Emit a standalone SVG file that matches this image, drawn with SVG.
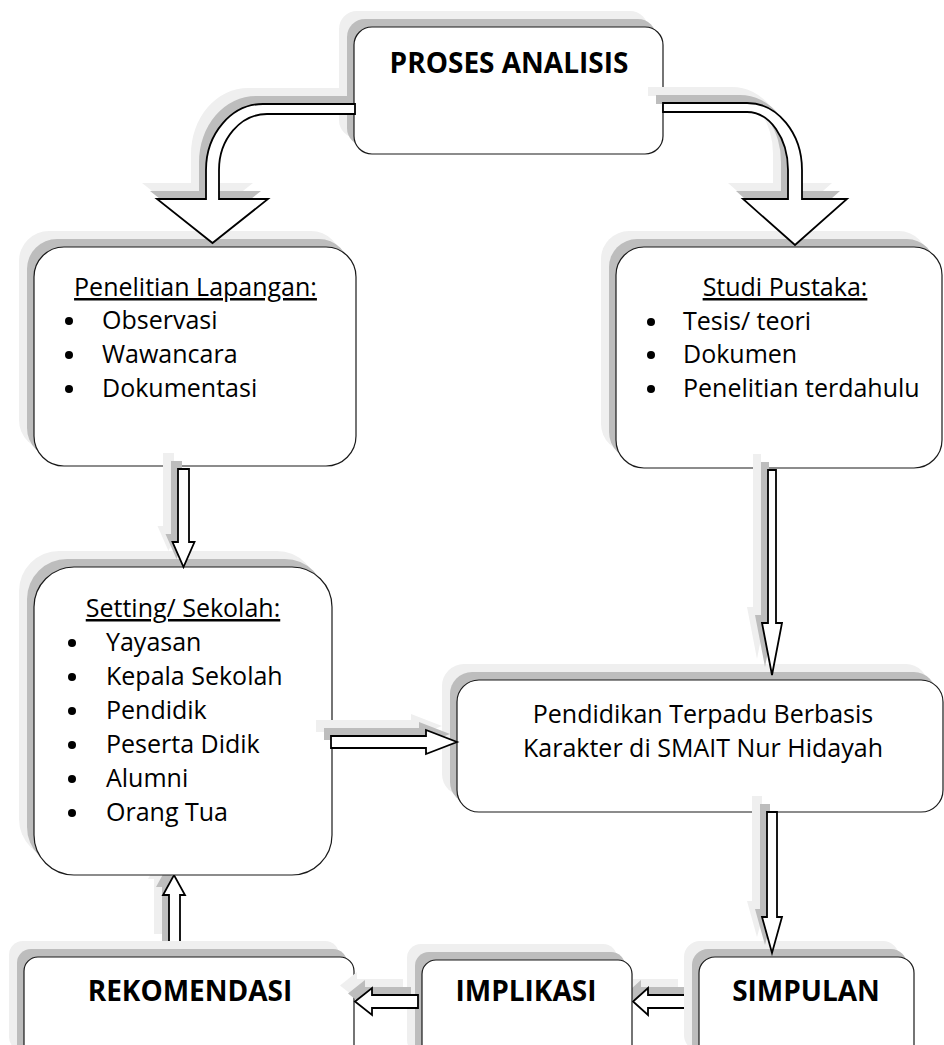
<svg xmlns="http://www.w3.org/2000/svg" width="944" height="1045" viewBox="0 0 944 1045">
<style>
.s1{fill:#efefef}
.s2{fill:#bdbdbd}
.box{fill:#fff;stroke:#1a1a1a;stroke-width:1.2}
.arr{fill:#fff;stroke:#000;stroke-width:1.8;stroke-linejoin:miter}
text{font-family:"Open Sans","Noto Sans","DejaVu Sans",sans-serif;fill:#000}
.t{font-size:25px}
.b{font-size:28px;font-weight:bold}
.h{text-decoration:underline}
.m{text-anchor:middle}
.dot{fill:#000}
</style>
<defs>
<rect id="r-proses" x="354" y="27" width="309" height="127" rx="18"/>
<rect id="r-pen" x="34" y="247" width="322" height="219" rx="30"/>
<rect id="r-studi" x="616" y="247" width="326" height="221" rx="28"/>
<rect id="r-set" x="34" y="567" width="298" height="308" rx="40"/>
<rect id="r-pend" x="457" y="680" width="486" height="132" rx="22"/>
<rect id="r-rek" x="24" y="957" width="330" height="110" rx="14"/>
<rect id="r-imp" x="422" y="960" width="210" height="110" rx="14"/>
<rect id="r-sim" x="699" y="957" width="215" height="110" rx="16"/>
<path id="a1" d="M355,104 L263,104 A57,66 0 0 0 206,170 L206,199 L157,199 L212.5,243 L268,199 L219,199 L219,170 A48,56 0 0 1 267,114 L355,114 Z"/>
<path id="a2" d="M663,103 L747,103 A55,67 0 0 1 802,170 L802,199 L847,199 L795,245 L743,199 L788,199 L788,170 A41,58 0 0 0 747,112 L663,112 Z"/>
<path id="a3" d="M178,469 H189 V542 H194.5 L183.5,567 L172.5,542 H178 Z"/>
<path id="a4" d="M331,736 H426 V730 L457,742 L426,754 V748 H331 Z"/>
<path id="a5" d="M768,470 H776 V623 H782 L772,675 L762,623 H768 Z"/>
<path id="a6" d="M767,812 H777 V917 H782 L772,953 L762,917 H767 Z"/>
<path id="a7" d="M693,995 H648 V988 L633,1001.5 L648,1015 V1008 H693 Z"/>
<path id="a8" d="M418,995 H372 V988 L355,1001.5 L372,1015 V1008 H418 Z"/>
<path id="a9" d="M169,950 V895 H163 L174,875 L185,895 H180 V950 Z"/>
</defs>
<rect x="0" y="0" width="944" height="1045" fill="#fff"/>

<g id="connectors-back">
<g id="c-imp-rek-up"><use href="#a9" class="s1" transform="translate(-15,-16)"/><use href="#a9" class="s2" transform="translate(-7,-8)"/><use href="#a9" class="arr"/></g>
<g id="c-sim-imp"><use href="#a7" class="s1" transform="translate(-15,-16)"/><use href="#a7" class="s2" transform="translate(-7,-8)"/><use href="#a7" class="arr"/></g>
</g>

<g id="node-proses">
<use href="#r-proses" class="s1" transform="translate(-15,-16)"/><use href="#r-proses" class="s2" transform="translate(-7,-8)"/><use href="#r-proses" class="box"/>
<text class="b m" x="509" y="73">PROSES ANALISIS</text>
</g>

<g id="node-penelitian">
<use href="#r-pen" class="s1" transform="translate(-15,-16)"/><use href="#r-pen" class="s2" transform="translate(-7,-8)"/><use href="#r-pen" class="box"/>
<text class="t m h" x="195.5" y="296">Penelitian Lapangan:</text>
<circle class="dot" cx="69" cy="321" r="4"/><text class="t" x="102" y="329">Observasi</text>
<circle class="dot" cx="69" cy="355" r="4"/><text class="t" x="102" y="363">Wawancara</text>
<circle class="dot" cx="69" cy="389" r="4"/><text class="t" x="102" y="397">Dokumentasi</text>
</g>

<g id="node-studi">
<use href="#r-studi" class="s1" transform="translate(-15,-16)"/><use href="#r-studi" class="s2" transform="translate(-7,-8)"/><use href="#r-studi" class="box"/>
<text class="t m h" x="785" y="296">Studi Pustaka:</text>
<circle class="dot" cx="651" cy="322" r="4"/><text class="t" x="683" y="330">Tesis/ teori</text>
<circle class="dot" cx="651" cy="355" r="4"/><text class="t" x="683" y="363">Dokumen</text>
<circle class="dot" cx="651" cy="389" r="4"/><text class="t" x="683" y="397">Penelitian terdahulu</text>
</g>

<g id="node-setting">
<use href="#r-set" class="s1" transform="translate(-15,-16)"/><use href="#r-set" class="s2" transform="translate(-7,-8)"/><use href="#r-set" class="box"/>
<text class="t m h" x="183" y="617">Setting/ Sekolah:</text>
<circle class="dot" cx="72" cy="643" r="4"/><text class="t" x="106" y="651">Yayasan</text>
<circle class="dot" cx="72" cy="677" r="4"/><text class="t" x="106" y="685">Kepala Sekolah</text>
<circle class="dot" cx="72" cy="711" r="4"/><text class="t" x="106" y="719">Pendidik</text>
<circle class="dot" cx="72" cy="745" r="4"/><text class="t" x="106" y="753">Peserta Didik</text>
<circle class="dot" cx="72" cy="779" r="4"/><text class="t" x="106" y="787">Alumni</text>
<circle class="dot" cx="72" cy="813" r="4"/><text class="t" x="106" y="821">Orang Tua</text>
</g>

<g id="node-pendidikan">
<use href="#r-pend" class="s1" transform="translate(-15,-16)"/><use href="#r-pend" class="s2" transform="translate(-7,-8)"/><use href="#r-pend" class="box"/>
<text class="t m" x="703" y="723">Pendidikan Terpadu Berbasis</text>
<text class="t m" x="703" y="757">Karakter di SMAIT Nur Hidayah</text>
</g>

<g id="node-rekomendasi">
<use href="#r-rek" class="s1" transform="translate(-15,-16)"/><use href="#r-rek" class="s2" transform="translate(-7,-8)"/><use href="#r-rek" class="box"/>
<text class="b m" x="190" y="1001">REKOMENDASI</text>
</g>

<g id="node-implikasi">
<use href="#r-imp" class="s1" transform="translate(-15,-16)"/><use href="#r-imp" class="s2" transform="translate(-7,-8)"/><use href="#r-imp" class="box"/>
<text class="b m" x="526" y="1001">IMPLIKASI</text>
</g>

<g id="node-simpulan">
<use href="#r-sim" class="s1" transform="translate(-15,-16)"/><use href="#r-sim" class="s2" transform="translate(-7,-8)"/><use href="#r-sim" class="box"/>
<text class="b m" x="806" y="1001">SIMPULAN</text>
</g>

<g id="connectors">
<g id="c-proses-pen"><use href="#a1" class="s1" transform="translate(-15,-16)"/><use href="#a1" class="s2" transform="translate(-7,-8)"/><use href="#a1" class="arr"/></g>
<g id="c-proses-studi"><use href="#a2" class="s1" transform="translate(-15,-16)"/><use href="#a2" class="s2" transform="translate(-7,-8)"/><use href="#a2" class="arr"/></g>
<g id="c-pen-set"><use href="#a3" class="s1" transform="translate(-15,-16)"/><use href="#a3" class="s2" transform="translate(-7,-8)"/><use href="#a3" class="arr"/></g>
<g id="c-set-pend"><use href="#a4" class="s1" transform="translate(-15,-16)"/><use href="#a4" class="s2" transform="translate(-7,-8)"/><use href="#a4" class="arr"/></g>
<g id="c-studi-pend"><use href="#a5" class="s1" transform="translate(-15,-16)"/><use href="#a5" class="s2" transform="translate(-7,-8)"/><use href="#a5" class="arr"/></g>
<g id="c-pend-sim"><use href="#a6" class="s1" transform="translate(-15,-16)"/><use href="#a6" class="s2" transform="translate(-7,-8)"/><use href="#a6" class="arr"/></g>
<g id="c-imp-rek"><use href="#a8" class="s1" transform="translate(-15,-16)"/><use href="#a8" class="s2" transform="translate(-7,-8)"/><use href="#a8" class="arr"/></g>
</g>
</svg>
